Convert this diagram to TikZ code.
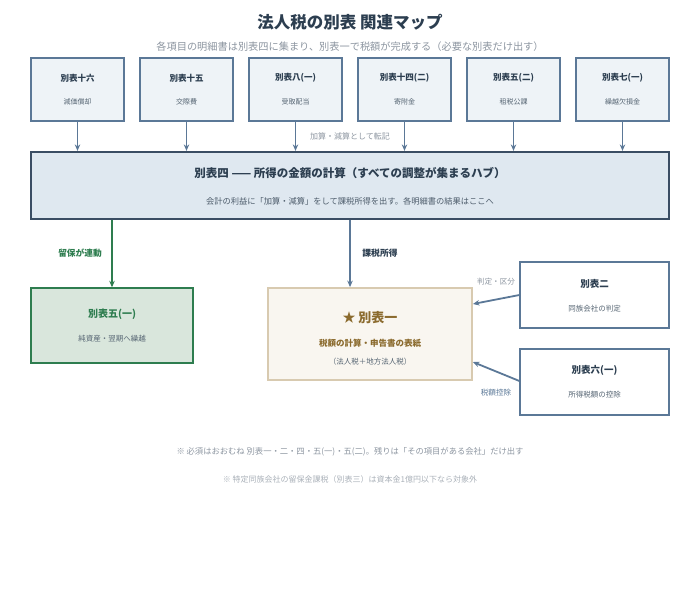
\documentclass[tikz,border=0pt]{standalone}
\usepackage{fontspec}
\setmainfont{Noto Sans CJK JP}
\usetikzlibrary{arrows.meta}
\definecolor{inkdark}{HTML}{2C3E50}
\definecolor{inkgray}{HTML}{8C95A0}
\definecolor{inklight}{HTML}{A9B0B8}
\definecolor{linkblue}{HTML}{5B7897}
\definecolor{sheetfill}{HTML}{EEF3F7}
\definecolor{hubfill}{HTML}{DFE8F0}
\definecolor{hubline}{HTML}{3A4D63}
\definecolor{keepgreen}{HTML}{2E7D4F}
\definecolor{keepfill}{HTML}{D9E6DC}
\definecolor{mainbrown}{HTML}{8B6B2E}
\definecolor{mainfill}{HTML}{F9F6F0}
\definecolor{mainline}{HTML}{D8CAB0}
\begin{document}
\begin{tikzpicture}[x=1pt,y=-1pt,
		sheet/.style={draw=linkblue,fill=sheetfill,line width=1.2pt,minimum width=93pt,minimum height=63pt,inner sep=0pt},
		sidesheet/.style={draw=linkblue,fill=white,line width=1.2pt,minimum width=149pt,minimum height=66pt,inner sep=0pt},
		head/.style={font=\fontsize{8.5}{10}\selectfont\bfseries,text=inkdark},
		sub/.style={font=\fontsize{7.5}{9}\selectfont,text=inkdark!80},
		note/.style={font=\fontsize{8}{9}\selectfont,text=inkgray},
		link/.style={-{Stealth[length=6.5pt,width=5.5pt]},draw=linkblue,line width=1.8pt}]
		\useasboundingbox (0,0) rectangle (700,588);

		\node[font=\fontsize{16.5}{19}\selectfont\bfseries,text=inkdark] (title) at (350,22) {法人税の別表 関連マップ};
		\node[font=\fontsize{10.2}{12}\selectfont,text=inkgray] (subtitle) at (350,47) {各項目の明細書は別表四に集まり、別表一で税額が完成する（必要な別表だけ出す）};

		% upper row of detail sheets
		\foreach \n/\cx/\hd/\tx in {1/77.5/別表十六/減価償却, 2/186.5/別表十五/交際費, 3/295.5/別表八(一)/受取配当,
				4/404.5/別表十四(二)/寄附金, 5/513.5/別表五(二)/租税公課, 6/622.5/別表七(一)/繰越欠損金}{
			\node[sheet] (s\n) at (\cx,89.5) {};
			\node[head] (s\n h) at (\cx,78) {\hd};
			\node[sub,font=\fontsize{7}{8}\selectfont] (s\n t) at (\cx,102) {\tx};
		}

		% hub
		\node[draw=hubline,fill=hubfill,line width=2.2pt,minimum width=638pt,minimum height=67pt,inner sep=0pt] (hub) at (350,185.5) {};
		\node[font=\fontsize{11.5}{13}\selectfont\bfseries,text=inkdark] (hubh) at (350,173) {別表四 —— 所得の金額の計算（すべての調整が集まるハブ）};
		\node[font=\fontsize{8.25}{9}\selectfont,text=inkdark!85] (hubt) at (350,201) {会計の利益に「加算・減算」をして課税所得を出す。各明細書の結果はここへ};

		\foreach \n in {1,...,6}
			\draw[link] (s\n.south)--(s\n.south|-hub.north);
		\node[note,fill=white,inner sep=1pt] (post) at (350,136) {加算・減算として転記};

		% bottom left: retained items
		\node[draw=keepgreen,fill=keepfill,line width=1.4pt,minimum width=162pt,minimum height=75pt,inner sep=0pt] (keep) at (112,325.5) {};
		\node[font=\fontsize{10}{12}\selectfont\bfseries,text=keepgreen] (keeph) at (112,314) {別表五(一)};
		\node[sub] (keept) at (112,339) {純資産・翌期へ繰越};

		% main form
		\node[draw=mainline,fill=mainfill,line width=1.8pt,minimum width=204pt,minimum height=92pt,inner sep=0pt] (main) at (370,334) {};
		\node[font=\fontsize{13}{15}\selectfont\bfseries,text=mainbrown] (mainh) at (370,318) {★ 別表一};
		\node[font=\fontsize{8.5}{10}\selectfont\bfseries,text=mainbrown] (mains) at (370,343) {税額の計算・申告書の表紙};
		\node[sub] (maint) at (370,362) {（法人税＋地方法人税）};

		% side forms
		\node[sidesheet] (b2) at (594.5,295) {};
		\node[head,font=\fontsize{9.5}{11}\selectfont\bfseries] (b2h) at (594.5,284) {別表二};
		\node[sub] (b2t) at (594.5,309) {同族会社の判定};
		\node[sidesheet] (b6) at (594.5,382) {};
		\node[head,font=\fontsize{9.5}{11}\selectfont\bfseries] (b6h) at (594.5,370) {別表六(一)};
		\node[sub] (b6t) at (594.5,395) {所得税額の控除};

		% connectors
		\draw[link,draw=keepgreen,line width=2pt] (112,219.5) coordinate (gfrom)--(gfrom|-keep.north);
		\node[font=\fontsize{8.7}{10}\selectfont\bfseries,text=keepgreen] (gl) at (80,253) {留保が連動};
		\draw[link,line width=2pt] (350,219.5) coordinate (bfrom)--(bfrom|-main.north);
		\node[font=\fontsize{8.8}{10}\selectfont\bfseries,text=inkdark] (bl) at (380,253) {課税所得};
		\draw[link] (b2.west|-0,295) coordinate (jfrom)--(main.east|-0,304);
		\node[note,font=\fontsize{7.6}{9}\selectfont] (jl) at (496,282) {判定・区分};
		\draw[link] (b6.west|-0,381) coordinate (kfrom)--(main.east|-0,362);
		\node[note,font=\fontsize{7.6}{9}\selectfont,text=linkblue] (kl) at (496,393) {税額控除};

		% footnotes
		\node[note,font=\fontsize{8.3}{10}\selectfont] (foot1) at (350,452) {※ 必須はおおむね 別表一・二・四・五(一)・五(二)。残りは「その項目がある会社」だけ出す};
		\node[note,font=\fontsize{8}{9}\selectfont,text=inklight] (foot2) at (350,479) {※ 特定同族会社の留保金課税（別表三）は資本金1億円以下なら対象外};
	\end{tikzpicture}
\end{document}
